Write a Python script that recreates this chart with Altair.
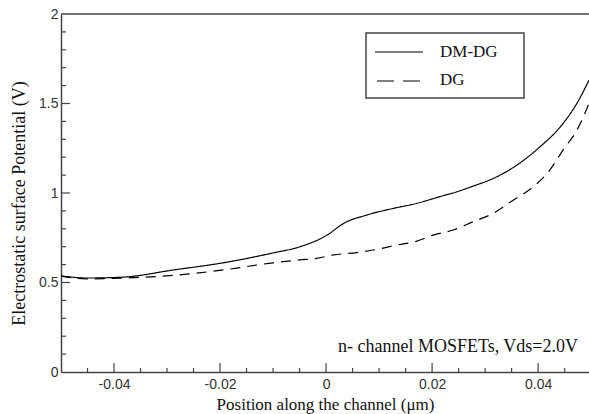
import altair as alt
import pandas as pd

series_names = ["DM-DG", "DG"]

dmdg_x = [-0.0500, -0.0451, -0.0383, -0.0288, -0.0194, -0.0100, -0.0049, 0.0002, 0.0033,
          0.0077, 0.0127, 0.0171, 0.0215, 0.0247, 0.0278, 0.0316, 0.0360, 0.0404, 0.0442,
          0.0473, 0.0496]
dmdg_y = [0.537, 0.525, 0.530, 0.570, 0.610, 0.665, 0.700, 0.765, 0.830,
          0.877, 0.914, 0.942, 0.980, 1.007, 1.039, 1.082, 1.156, 1.259, 1.370,
          1.500, 1.630]

dg_x = [-0.0500, -0.0451, -0.0383, -0.0288, -0.0194, -0.0100, -0.0049, -0.0018, 0.0014,
        0.0058, 0.0096, 0.0133, 0.0168, 0.0202, 0.0240, 0.0278, 0.0315, 0.0353, 0.0391,
        0.0422, 0.0447, 0.0473, 0.0496]
dg_y = [0.536, 0.520, 0.525, 0.540, 0.570, 0.610, 0.626, 0.635, 0.654,
        0.667, 0.685, 0.709, 0.728, 0.765, 0.793, 0.840, 0.886, 0.960, 1.035,
        1.128, 1.240, 1.350, 1.500]

x_labels = [-0.04, -0.02, 0, 0.02, 0.04]
x_minor = [-0.045, -0.035, -0.03, -0.025, -0.015, -0.01, -0.005,
           0.005, 0.01, 0.015, 0.025, 0.03, 0.035, 0.045]
y_labels = [0, 0.5, 1, 1.5, 2]
y_major = [0.5, 1.0, 1.5]
y_minor = [0.1, 0.2, 0.3, 0.4, 0.6, 0.7, 0.8, 0.9, 1.1, 1.2, 1.3, 1.4, 1.6, 1.7, 1.8, 1.9]

x_title = "Position along the channel (μm)"
y_title = "Electrostatic surface Potential (V)"
note = "n- channel MOSFETs, Vds=2.0V"

W, H = 528, 358
AX = "#444444"
SERIF = "Liberation Serif"
SANS = "Liberation Sans"

df = pd.concat([
    pd.DataFrame({"x": dmdg_x, "y": dmdg_y, "series": series_names[0]}),
    pd.DataFrame({"x": dg_x, "y": dg_y, "series": series_names[1]}),
])

xscale = alt.Scale(domain=[-0.05, 0.0496], nice=False, zero=False)
yscale = alt.Scale(domain=[0, 2], nice=False, zero=False)

x_axis = alt.Axis(values=x_labels, labelExpr="'' + datum.value", ticks=False, tickSize=0,
                  grid=False, domainColor=AX, domainWidth=1.5, labelFont=SANS,
                  labelFontSize=14, labelColor="#333333", labelPadding=5,
                  title=x_title, titleFont=SERIF, titleFontSize=17,
                  titleFontWeight="normal", titleColor="#111111",
                  titleX=W / 2, titleY=32, titleAlign="center", titleBaseline="middle")
y_axis = alt.Axis(values=y_labels, labelExpr="'' + datum.value", ticks=False, tickSize=0,
                  grid=False, domainColor=AX, domainWidth=1.5, labelFont=SANS,
                  labelFontSize=14, labelColor="#333333", labelPadding=3,
                  title=y_title, titleFont=SERIF, titleFontSize=18,
                  titleFontWeight="normal", titleColor="#111111",
                  titleX=-42, titleY=189, titleAlign="center", titleBaseline="middle",
                  titleAngle=270)

X = alt.X("x:Q", scale=xscale, axis=x_axis)
Y = alt.Y("y:Q", scale=yscale, axis=y_axis)

lines = alt.Chart(df).mark_line(color="black", strokeWidth=1.2, interpolate="monotone").encode(
    x=X, y=Y,
    strokeDash=alt.StrokeDash("series:N", scale=alt.Scale(domain=series_names,
                              range=[[1, 0], [10, 7]]), legend=None),
    detail="series:N",
)

top_border = alt.Chart(pd.DataFrame({"a": [0]})).mark_rule(color=AX, strokeWidth=1.5).encode(
    x=alt.value(0), x2=alt.value(W), y=alt.value(0))

xt_major = alt.Chart(pd.DataFrame({"x": x_labels})).mark_rule(color=AX, strokeWidth=1.2).encode(
    x=X, y=alt.value(H), y2=alt.value(H - 9))
xt_minor = alt.Chart(pd.DataFrame({"x": x_minor})).mark_rule(color=AX, strokeWidth=1.2).encode(
    x=X, y=alt.value(H), y2=alt.value(H - 4))
yt_major = alt.Chart(pd.DataFrame({"y": y_major})).mark_rule(color=AX, strokeWidth=1.2).encode(
    y=Y, x=alt.value(0), x2=alt.value(9))
yt_minor = alt.Chart(pd.DataFrame({"y": y_minor})).mark_rule(color=AX, strokeWidth=1.2).encode(
    y=Y, x=alt.value(0), x2=alt.value(5))

box = alt.Chart(pd.DataFrame({"a": [0]})).mark_rect(fill="white", stroke=AX, strokeWidth=1.5).encode(
    x=alt.value(305), x2=alt.value(463), y=alt.value(19), y2=alt.value(84))
leg_solid = alt.Chart(pd.DataFrame({"a": [0]})).mark_rule(color="black", strokeWidth=1.2).encode(
    x=alt.value(314), x2=alt.value(362), y=alt.value(38))
leg_dash = alt.Chart(pd.DataFrame({"a": [0]})).mark_rule(color="black", strokeWidth=1.2,
                                                        strokeDash=[17, 9]).encode(
    x=alt.value(316), x2=alt.value(362), y=alt.value(67))
leg_t1 = alt.Chart(pd.DataFrame({"s": [series_names[0]]})).mark_text(
    align="left", baseline="alphabetic", font=SERIF, fontSize=17, color="#111111").encode(
    x=alt.value(379), y=alt.value(43), text="s:N")
leg_t2 = alt.Chart(pd.DataFrame({"s": [series_names[1]]})).mark_text(
    align="left", baseline="alphabetic", font=SERIF, fontSize=17, color="#111111").encode(
    x=alt.value(379), y=alt.value(71), text="s:N")
note_t = alt.Chart(pd.DataFrame({"s": [note]})).mark_text(
    align="right", baseline="alphabetic", font=SERIF, fontSize=18, color="#111111").encode(
    x=alt.value(517), y=alt.value(338), text="s:N")

chart = alt.layer(
    lines, top_border, xt_major, xt_minor, yt_major, yt_minor,
    box, leg_solid, leg_dash, leg_t1, leg_t2, note_t
).properties(
    width=W, height=H,
    padding={"left": 61, "top": 14, "right": 0, "bottom": 42},
    autosize=alt.AutoSizeParams(type="none"),
    background="white",
).configure_view(stroke=None)

chart.save("out.html", embed_options={"renderer": "svg", "actions": False})
